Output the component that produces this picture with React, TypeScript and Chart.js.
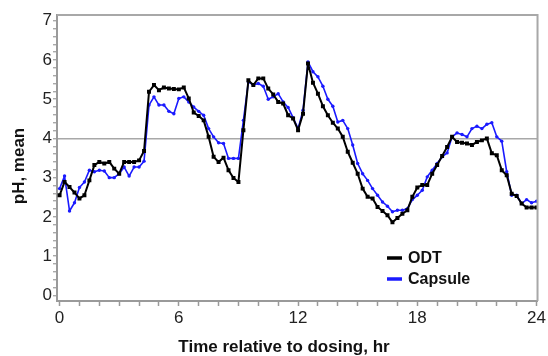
import React, { useEffect, useRef } from 'react';
import { Chart, registerables } from 'chart.js';

Chart.register(...registerables);

const timesHr = [
  0, 0.25, 0.5, 0.75, 1, 1.25, 1.5, 1.75, 2, 2.25, 2.5, 2.75, 3, 3.25, 3.5, 3.75,
  4, 4.25, 4.5, 4.75, 5, 5.25, 5.5, 5.75, 6, 6.25, 6.5, 6.75, 7, 7.25, 7.5, 7.75,
  8, 8.25, 8.5, 8.75, 9, 9.25, 9.5, 9.75, 10, 10.25, 10.5, 10.75, 11, 11.25, 11.5, 11.75,
  12, 12.25, 12.5, 12.75, 13, 13.25, 13.5, 13.75, 14, 14.25, 14.5, 14.75, 15, 15.25, 15.5, 15.75,
  16, 16.25, 16.5, 16.75, 17, 17.25, 17.5, 17.75, 18, 18.25, 18.5, 18.75, 19, 19.25, 19.5, 19.75,
  20, 20.25, 20.5, 20.75, 21, 21.25, 21.5, 21.75, 22, 22.25, 22.5, 22.75, 23, 23.25, 23.5, 23.75, 24,
];

const odtPH = [
  2.55, 2.89, 2.76, 2.62, 2.47, 2.55, 2.93, 3.32, 3.4, 3.36, 3.4, 3.23, 3.1, 3.4, 3.4, 3.4,
  3.44, 3.68, 5.19, 5.36, 5.23, 5.3, 5.27, 5.26, 5.25, 5.3, 5.02, 4.66, 4.57, 4.46, 4.04, 3.53,
  3.4, 3.51, 3.19, 2.99, 2.89, 4.21, 5.48, 5.36, 5.53, 5.53, 5.27, 5.12, 4.93, 4.89, 4.59, 4.51,
  4.21, 4.63, 5.91, 5.42, 5.14, 4.82, 4.59, 4.4, 4.25, 4.04, 3.66, 3.38, 3.1, 2.72, 2.51, 2.47,
  2.25, 2.15, 2.04, 1.86, 1.97, 2.08, 2.17, 2.51, 2.75, 2.81, 2.81, 3.1, 3.32, 3.55, 3.78, 4.04,
  3.91, 3.89, 3.87, 3.83, 3.91, 3.95, 4.0, 3.62, 3.57, 3.19, 3.06, 2.59, 2.53, 2.34, 2.24, 2.24, 2.24,
];

const capsulePH = [
  2.72, 3.04, 2.15, 2.36, 2.75, 2.89, 3.19, 3.15, 3.19, 3.17, 3.0, 3.0, 3.1, 3.27, 3.04, 3.27,
  3.27, 3.42, 4.85, 5.06, 4.85, 4.85, 4.69, 4.63, 5.02, 5.06, 4.93, 4.8, 4.69, 4.59, 4.25, 4.04,
  3.89, 3.87, 3.49, 3.49, 3.49, 4.46, 5.44, 5.36, 5.4, 5.33, 5.0, 5.06, 5.14, 4.93, 4.79, 4.53,
  4.25, 4.72, 5.95, 5.7, 5.57, 5.33, 5.0, 4.82, 4.42, 4.46, 4.25, 3.83, 3.36, 3.1, 2.93, 2.72,
  2.55, 2.38, 2.27, 2.13, 2.17, 2.17, 2.21, 2.44, 2.55, 2.68, 3.02, 3.19, 3.36, 3.53, 3.63, 4.04,
  4.14, 4.1, 4.04, 4.25, 4.31, 4.25, 4.36, 4.4, 4.04, 3.93, 3.15, 2.55, 2.55, 2.34, 2.44, 2.36, 2.4,
];

const seriesNames = ['ODT', 'Capsule'];
const xTickValues = Array.from({ length: 25 }, (_, i) => i);
const xLabelledTicks = [0, 6, 12, 18, 24];
const yTickValues = Array.from({ length: 36 }, (_, i) => Math.round(i * 2) / 10);
const yLabelledTicks = [0, 1, 2, 3, 4, 5, 6, 7];
const referencePH = 4;
const xTitle = 'Time relative to dosing, hr';
const yTitle = 'pH, mean';

const FONT = "'Liberation Sans', Arial, sans-serif";
const AXIS_GRAY = '#9a9a9a';

const framePlugin = {
  id: 'frame',
  afterDraw(chart: any) {
    const { ctx, chartArea } = chart;
    ctx.save();
    ctx.strokeStyle = '#a8a8a8';
    ctx.lineWidth = 2;
    ctx.beginPath();
    ctx.moveTo(chartArea.left, chartArea.top);
    ctx.lineTo(chartArea.right, chartArea.top);
    ctx.lineTo(chartArea.right, chartArea.bottom);
    ctx.stroke();
    ctx.restore();
  },
};

const titlesPlugin = {
  id: 'titles',
  afterDraw(chart: any) {
    const { ctx } = chart;
    ctx.save();
    ctx.fillStyle = '#111';
    ctx.font = `bold 17px ${FONT}`;
    ctx.textAlign = 'center';
    ctx.textBaseline = 'middle';
    ctx.fillText(xTitle, 284, 347);
    ctx.translate(19, 166);
    ctx.rotate(-Math.PI / 2);
    ctx.fillText(yTitle, 0, 0);
    ctx.restore();
  },
};

const legendPlugin = {
  id: 'insideLegend',
  afterDraw(chart: any) {
    const { ctx } = chart;
    ctx.save();
    ctx.font = `bold 16px ${FONT}`;
    ctx.textAlign = 'left';
    ctx.textBaseline = 'middle';
    chart.data.datasets.forEach((ds: any, i: number) => {
      const y = 258 + i * 21;
      ctx.strokeStyle = ds.borderColor;
      ctx.lineWidth = 3.5;
      ctx.beginPath();
      ctx.moveTo(387, y);
      ctx.lineTo(402, y);
      ctx.stroke();
      ctx.fillStyle = '#111';
      ctx.fillText(ds.label, 408, y + 0.5);
    });
    ctx.restore();
  },
};

export default function App() {
  const canvasRef = useRef<HTMLCanvasElement | null>(null);

  useEffect(() => {
    if (!canvasRef.current) return;
    const chart = new Chart(canvasRef.current, {
      type: 'line',
      data: {
        datasets: [
          {
            label: seriesNames[0],
            data: timesHr.map((t, i) => ({ x: t, y: odtPH[i] })),
            borderColor: '#000000',
            backgroundColor: '#000000',
            borderWidth: 2,
            pointStyle: 'rect',
            pointRadius: 2.8,
            pointBorderWidth: 0,
            tension: 0,
          },
          {
            label: seriesNames[1],
            data: timesHr.map((t, i) => ({ x: t, y: capsulePH[i] })),
            borderColor: '#1a1aff',
            backgroundColor: '#1a1aff',
            borderWidth: 1.6,
            pointStyle: 'circle',
            pointRadius: 1.7,
            pointBorderWidth: 0,
            tension: 0,
          },
        ],
      },
      options: {
        animation: false,
        responsive: false,
        maintainAspectRatio: false,
        layout: { padding: { top: 15, right: 6, left: 0, bottom: 0 } },
        plugins: {
          legend: { display: false },
          tooltip: { enabled: false },
          title: { display: false },
        },
        elements: { line: { borderJoinStyle: 'round' } },
        scales: {
          x: {
            type: 'linear',
            min: -0.13,
            max: 24.05,
            afterFit: (s: any) => {
              s.height = 55;
            },
            afterBuildTicks: (s: any) => {
              s.ticks = xTickValues.map((v) => ({ value: v }));
            },
            ticks: {
              autoSkip: false,
              maxRotation: 0,
              padding: 2,
              color: '#222',
              font: { family: FONT, size: 17 },
              callback: (v: any) => (xLabelledTicks.includes(Number(v)) ? String(v) : ''),
            },
            grid: {
              drawOnChartArea: false,
              tickLength: 5,
              tickColor: AXIS_GRAY,
              tickWidth: 1.5,
            },
            border: { color: AXIS_GRAY, width: 2 },
          },
          y: {
            type: 'linear',
            min: -0.145,
            max: 7.146,
            afterFit: (s: any) => {
              s.width = 57;
            },
            afterBuildTicks: (s: any) => {
              s.ticks = yTickValues.map((v) => ({ value: v }));
            },
            ticks: {
              autoSkip: false,
              padding: 1,
              color: '#222',
              font: { family: FONT, size: 17 },
              callback: (v: any) => {
                const n = Number(v);
                return yLabelledTicks.some((k) => Math.abs(k - n) < 1e-6) ? String(Math.round(n)) : '';
              },
            },
            grid: {
              drawOnChartArea: true,
              color: (c: any) =>
                c.tick && Math.abs(c.tick.value - referencePH) < 1e-6 ? '#a8a8a8' : 'rgba(0,0,0,0)',
              lineWidth: 1.5,
              tickLength: 4,
              tickColor: AXIS_GRAY,
              tickWidth: 1.2,
            },
            border: { color: AXIS_GRAY, width: 2 },
          },
        },
      },
      plugins: [framePlugin, titlesPlugin, legendPlugin],
    });
    return () => chart.destroy();
  }, []);

  return (
    <div style={{ position: 'absolute', left: 0, top: 0, width: 548, height: 356, background: '#fff' }}>
      <canvas ref={canvasRef} width={548} height={356} style={{ width: 548, height: 356 }} />
    </div>
  );
}
